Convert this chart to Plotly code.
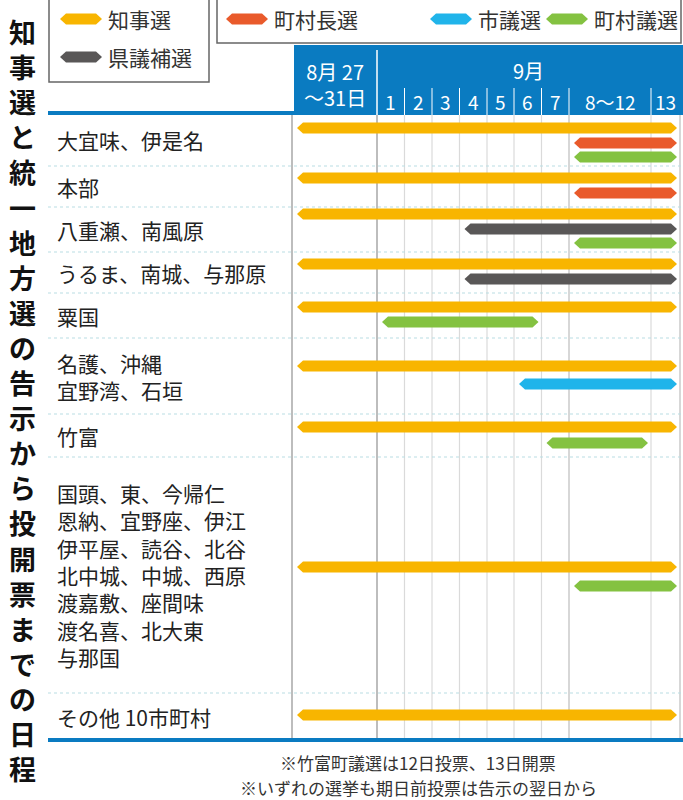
import plotly.graph_objects as go

# ---- data ----
columns = ["8月27〜31日", "1", "2", "3", "4", "5", "6", "7", "8〜12", "13"]
col_edges = [292, 377, 404.5, 432, 459.5, 487, 514, 541.5, 569, 651, 680]
rows = ["大宜味、伊是名", "本部", "八重瀬、南風原", "うるま、南城、与那原", "粟国",
        "名護、沖縄<br>宜野湾、石垣", "竹富",
        "国頭、東、今帰仁<br>恩納、宜野座、伊江<br>伊平屋、読谷、北谷<br>北中城、中城、西原<br>渡嘉敷、座間味<br>渡名喜、北大東<br>与那国",
        "その他 10市町村"]
row_bounds = [113, 166, 207, 252, 293, 338, 414, 457, 693, 740]
types = ["知事選", "町村長選", "市議選", "町村議選", "県議補選"]
colors = {"知事選": "#F8B500", "町村長選": "#E95A2B", "市議選": "#20B4EA",
          "町村議選": "#84C241", "県議補選": "#595757"}
# (row, type, start column, end column, y)
bars = [
    (0, "知事選", 0, 9, 128), (0, "町村長選", 8, 9, 143), (0, "町村議選", 8, 9, 157),
    (1, "知事選", 0, 9, 178), (1, "町村長選", 8, 9, 193),
    (2, "知事選", 0, 9, 214), (2, "県議補選", 4, 9, 229), (2, "町村議選", 8, 9, 243),
    (3, "知事選", 0, 9, 264), (3, "県議補選", 4, 9, 279),
    (4, "知事選", 0, 9, 307), (4, "町村議選", 1, 6, 322),
    (5, "知事選", 0, 9, 366), (5, "市議選", 6, 9, 384),
    (6, "知事選", 0, 9, 427), (6, "町村議選", 7, 8, 443),
    (7, "知事選", 0, 9, 567), (7, "町村議選", 8, 9, 586),
    (8, "知事選", 0, 9, 715),
]
title = "知事選と統一地方選の告示から投開票までの日程"
notes = ["※竹富町議選は12日投票、13日開票", "※いずれの選挙も期日前投票は告示の翌日から"]

fig = go.Figure()
H = 5.5

def hexa(x0, x1, y, h=H, tip=6):
    xs = [x0, x0 + tip, x1 - tip, x1, x1 - tip, x0 + tip, x0]
    ys = [y, y - h, y - h, y, y + h, y + h, y]
    return xs, ys

shapes = []
shapes.append(dict(type="rect", x0=294, x1=683, y0=45, y1=115, fillcolor="#0A7BC1", line_width=0, layer="below"))
shapes.append(dict(type="line", x0=48, x1=294, y0=113, y1=113, line=dict(color="#0A7BC1", width=4)))
shapes.append(dict(type="line", x0=48, x1=683, y0=740, y1=740, line=dict(color="#0A7BC1", width=4)))
shapes.append(dict(type="line", x0=col_edges[1], x1=col_edges[1], y0=50, y1=115, line=dict(color="white", width=1.5)))
for e in col_edges[2:-1]:
    shapes.append(dict(type="line", x0=e, x1=e, y0=88, y1=115, line=dict(color="white", width=1)))
for i, e in enumerate(col_edges):
    shapes.append(dict(type="line", x0=e, x1=e, y0=115, y1=740,
                       line=dict(color="#BDBDBD" if i in (0, 1, 8, 10) else "#DADADA", width=2 if i in (0, 1) else 1.2),
                       layer="below"))
for b in row_bounds[1:-1]:
    shapes.append(dict(type="line", x0=48, x1=683, y0=b, y1=b, line=dict(color="#B9DDE3", width=1.2, dash="dot"), layer="below"))
shapes.append(dict(type="rect", x0=49, x1=209, y0=-2, y1=82, line=dict(color="#666", width=1.5)))
shapes.append(dict(type="rect", x0=217, x1=681, y0=-2, y1=43, line=dict(color="#666", width=1.5)))

for r, t, c0, c1, y in bars:
    xs, ys = hexa(col_edges[c0] + 5, col_edges[c1 + 1] - 3, y)
    fig.add_trace(go.Scatter(x=xs, y=ys, fill="toself", fillcolor=colors[t], mode="lines",
                             line=dict(width=0, color=colors[t]), hoverinfo="skip", showlegend=False))

leg_pos = {"知事選": (60, 19), "県議補選": (60, 57), "町村長選": (226, 19), "市議選": (430, 19), "町村議選": (546, 19)}
ann = []
for t, (lx, ly) in leg_pos.items():
    xs, ys = hexa(lx, lx + 42, ly, h=5.5)
    fig.add_trace(go.Scatter(x=xs, y=ys, fill="toself", fillcolor=colors[t], mode="lines",
                             line=dict(width=0), hoverinfo="skip", showlegend=False))
    ann.append(dict(x=lx + 46, y=ly, text=t, showarrow=False, xanchor="left", yanchor="middle",
                    font=dict(size=21, color="#333")))

F = "Noto Sans CJK JP"
for i, name in enumerate(rows):
    yc = (row_bounds[i] + row_bounds[i + 1]) / 2
    ann.append(dict(x=55, y=yc, text=name, showarrow=False, xanchor="left", yanchor="middle",
                    align="left", font=dict(size=21, color="#222")))
ann.append(dict(x=334.5, y=84, text="8月 27<br>〜31日", showarrow=False, font=dict(size=20, color="white")))
ann.append(dict(x=528, y=70, text="9月", showarrow=False, font=dict(size=20, color="white")))
for i in range(1, len(columns)):
    ann.append(dict(x=(col_edges[i] + col_edges[i + 1]) / 2, y=101, text=columns[i], showarrow=False,
                    font=dict(size=19, color="white")))
ann.append(dict(x=22, y=400, text="<b>" + "<br>".join(title) + "</b>", showarrow=False, yanchor="middle",
                font=dict(size=27, color="#111", family=F)))
for k, n in enumerate(notes):
    ann.append(dict(x=418, y=762 + 25 * k, text=n, showarrow=False, font=dict(size=17, color="#333")))

fig.update_layout(width=683, height=800, margin=dict(l=0, r=0, t=0, b=0),
                  plot_bgcolor="white", paper_bgcolor="white",
                  font=dict(family=F),
                  xaxis=dict(range=[0, 683], visible=False, fixedrange=True),
                  yaxis=dict(range=[800, 0], visible=False, fixedrange=True),
                  shapes=shapes, annotations=ann, showlegend=False)
fig.write_html("out.html", config={"displayModeBar": False},
               post_script="document.body.style.margin='0';document.body.style.overflow='hidden';")
